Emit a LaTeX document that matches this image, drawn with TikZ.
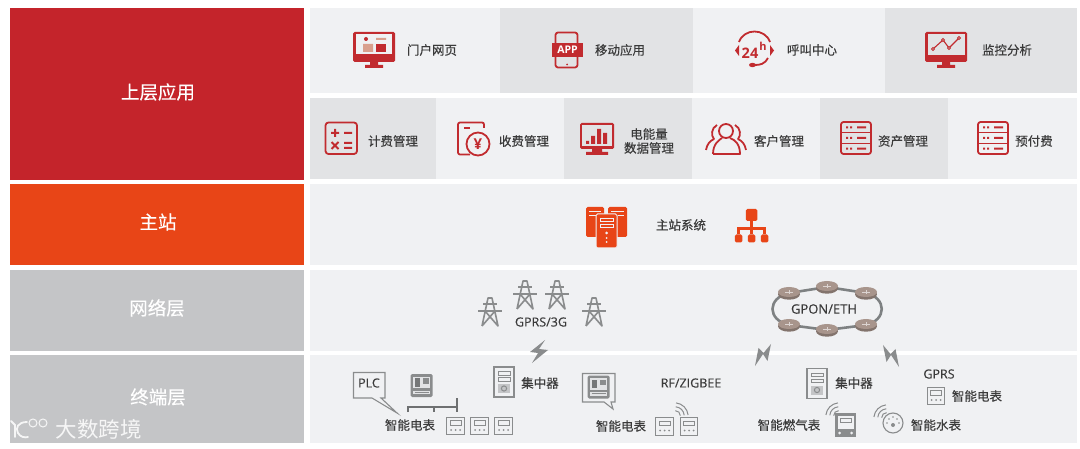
\documentclass[tikz,border=0pt]{standalone}
\usepackage{fontspec}
\setmainfont[FakeBold=0.25]{Open Sans}
\newfontfamily\cjk[FakeBold=0.35]{Noto Sans CJK SC}
\newfontfamily\cjkw{Noto Sans CJK SC}
\newfontfamily\latb{Open Sans}
\definecolor{cred}{HTML}{C4242B}
\definecolor{iconred}{HTML}{C12B2F}
\definecolor{salmon}{HTML}{D9A08E}
\definecolor{corange}{HTML}{E84517}
\definecolor{cgrey}{HTML}{C4C5C7}
\definecolor{clight}{HTML}{F0F1F3}
\definecolor{cdark}{HTML}{E2E3E5}
\definecolor{txt}{HTML}{3A3A3A}
\definecolor{gicon}{HTML}{8A8C8D}
\definecolor{router}{HTML}{A8958C}
\definecolor{ringc}{HTML}{7E8182}
\usetikzlibrary{shapes.geometric}
\tikzset{
  lab/.style={font=\cjk\fontsize{12.5}{14}\selectfont,text=txt,inner sep=0pt,align=center},
  head/.style={font=\cjk\fontsize{18.5}{20}\selectfont,text=white,inner sep=0pt},
  lat/.style={font=\fontsize{12.5}{14}\selectfont,text=txt,inner sep=0pt},
  redline/.style={draw=iconred,line width=1.8pt,line join=round},
  routernode/.style={ellipse,minimum width=22pt,minimum height=12pt,inner sep=0pt},
  ringline/.style={draw=ringc,line width=2.6pt},
  hbox/.style={fill=corange,rounded corners=1.5pt,inner sep=0pt},
}
\newcommand{\smeter}[2]{\begin{scope}[shift={(#1,#2)}]
  \draw[gicon,line width=1pt,fill=clight] (-8.7,-8.7) rectangle (8.7,8.7);
  \draw[gicon,line width=.9pt] (-5.5,-5.5) rectangle (5.5,-1);
  \fill[gicon] (-4.5,4) circle (1) (0,4) circle (1) (4.5,4) circle (1);
\end{scope}}
\newcommand{\conc}[2]{\begin{scope}[shift={(#1,#2)}]
  \draw[gicon,line width=1.1pt,fill=clight] (-10,-15) rectangle (10,15);
  \draw[gicon,line width=1pt] (-6,-10.5) rectangle (6,-7) (-6,-4.5) rectangle (6,-1);
  \fill[cgrey] (-6,2) rectangle (6,11);
  \draw[gicon,line width=1pt] (0,6.5) circle (2.6);
\end{scope}}
\newcommand{\bmeter}[2]{\begin{scope}[shift={(#1,#2)}]
  \fill[gicon,rounded corners=1.5pt] (-11,-11.5) rectangle (11,11.5);
  \fill[cdark] (-8.5,-9) rectangle (8.5,2.5);
  \fill[gicon!85!black] (-7,-7.5) rectangle (-1.5,1);
  \fill[gicon] (1,-7.5) rectangle (7,-2);
  \fill[cdark] (-8.5,5) rectangle (8.5,8.5);
  \draw[gicon,line width=.8pt] (-7,6.7) -- (7,6.7);
\end{scope}}
\newcommand{\tower}[2]{\begin{scope}[shift={(#1,#2)}]
  \draw[gicon,line width=1.6pt,line join=round] (-8,14) -- (-2,-14) -- (2,-14) -- (8,14) -- (-5,-1) -- (5,-1) -- (-8,14);
  \draw[gicon,line width=1.4pt] (-12,-1) -- (12,-1) (-7,-8) -- (7,-8);
\end{scope}}
\newcommand{\wifi}[3]{\begin{scope}[shift={(#1,#2)},rotate=#3]
  \draw[gicon,line width=1pt] (4,-3.5) .. controls (6,-1.5) and (6,1.5) .. (4,3.5);
  \draw[gicon,line width=1pt] (7,-6) .. controls (10,-2.5) and (10,2.5) .. (7,6);
  \draw[gicon,line width=1pt] (10,-8.5) .. controls (14,-3.5) and (14,3.5) .. (10,8.5);
\end{scope}}
\newcommand{\srv}[2]{\begin{scope}[shift={(#1,#2)}]
  \draw[redline,rounded corners=2.5pt] (-15,-16) rectangle (15,16);
  \draw[iconred,line width=1.6pt] (-15,-5.5) -- (15,-5.5) (-15,5.5) -- (15,5.5);
  \foreach \yy in {-10.7,0,10.7}{
    \fill[iconred] (-10,\yy-1) rectangle (-8,\yy+1) (-6,\yy-1) rectangle (-4,\yy+1) (1,\yy-1) rectangle (10,\yy+1);}
\end{scope}}
\newcommand{\boltpath}{(8,-11) -- (4.5,6) -- (0,-1) -- (-8,11) -- (-4.5,-7) -- (0.5,-2) -- cycle}
\begin{document}
\begin{tikzpicture}[x=1pt,y=-1pt]
\useasboundingbox (0,0) rectangle (1080,449);
\fill[white] (0,0) rectangle (1080,449);
\fill[cred] (10,8) rectangle (304,180);
\fill[corange] (10,184) rectangle (304,265);
\fill[cgrey] (10,270) rectangle (304,351);
\fill[cgrey] (10,355) rectangle (304,443);
\node[head] (h1) at (158,92) {上层应用};
\node[head] (h2) at (158,222) {主站};
\node[head] (h3) at (157,308) {网络层};
\node[head] (h4) at (158,397) {终端层};
\fill[clight] (310,8) rectangle (500,93);
\fill[cdark] (500,8) rectangle (693,93);
\fill[clight] (693,8) rectangle (885,93);
\fill[cdark] (885,8) rectangle (1077,93);
\fill[cdark] (310,98) rectangle (436,179);
\fill[clight] (436,98) rectangle (564,179);
\fill[cdark] (564,98) rectangle (692,179);
\fill[clight] (692,98) rectangle (820,179);
\fill[cdark] (820,98) rectangle (948,179);
\fill[clight] (948,98) rectangle (1077,179);
\fill[clight] (310,184) rectangle (1077,265);
\fill[clight] (310,270) rectangle (1077,351);
\fill[clight] (310,355) rectangle (1077,443);
% portal
\fill[iconred,rounded corners=1.5pt] (353,32) rectangle (395,62);
\fill[clight] (356,34) rectangle (392,54);
\fill[iconred] (370,62) rectangle (378,65) (365,65) rectangle (383,68);
\fill[iconred] (366,39) circle (2);
\fill[salmon] (376,38) rectangle (386,40) (363,44) rectangle (373,52);
\fill[iconred] (376,44) rectangle (386,52);
\node[lab] (t1) at (432,50) {门户网页};
% APP
\draw[redline,fill=cdark,rounded corners=2.5pt] (555.5,32.5) rectangle (577.5,67.5);
\fill[iconred] (552,43) rectangle (583,57);
\node[font=\latb\bfseries\fontsize{10.5}{12}\selectfont,text=white,inner sep=0pt] (app) at (567.5,50) {APP};
\fill[iconred] (567,64.5) circle (1);
\node[lab] (t2) at (620,50) {移动应用};
% 24h
\draw[iconred,line width=1.8pt] (739,42) .. controls (744,28) and (765,28) .. (770,42);
\fill[iconred] (739,45) -- (735,50.5) -- (739,56) -- cycle;
\fill[iconred] (770,45) -- (774,50.5) -- (770,56) -- cycle;
\node[font=\latb\bfseries\fontsize{14.5}{16}\selectfont,text=iconred,inner sep=0pt] (n24) at (750,53) {24};
\node[font=\latb\bfseries\fontsize{11}{12}\selectfont,text=iconred,inner sep=0pt] (nh) at (763,46) {h};
\draw[iconred,line width=1.8pt] (768,58) .. controls (765,64) and (760,65) .. (755,65);
\fill[iconred] (752.5,65) ellipse (3.5 and 2.2);
\node[lab] (t3) at (812,50) {呼叫中心};
% monitoring
\fill[iconred,rounded corners=1.5pt] (925,32) rectangle (967,62);
\fill[cdark] (927.5,34.5) rectangle (964.5,55);
\fill[iconred] (942,62) rectangle (950,65) (937,65) rectangle (955,68);
\draw[iconred,line width=1.1pt] (933,49) -- (943,40) -- (949,48) -- (959,38);
\foreach \p in {(933,49),(943,40),(949,48),(959,38)}{\draw[iconred,line width=.8pt,fill=cdark] \p circle (1.5);}
\node[lab] (t4) at (1007,50) {监控分析};
% calc
\draw[redline,rounded corners=3pt] (325.5,122.5) rectangle (357,154);
\draw[iconred,line width=2pt] (331,133) -- (339,133) (335,129) -- (335,137) (344,133) -- (352,133)
  (331.5,142) -- (338.5,149) (338.5,142) -- (331.5,149) (344,143) -- (352,143) (344,148) -- (352,148);
\node[lab] (t5) at (393,141) {计费管理};
% fee
\draw[redline,rounded corners=2pt] (484,128) -- (484,122.5) -- (458,122.5) -- (458,154.5) -- (470,154.5);
\fill[iconred] (464,127.5) rectangle (470,129);
\draw[redline,fill=clight] (478,144) circle (11.5);
\node[font=\latb\bfseries\fontsize{15}{16}\selectfont,text=iconred,inner sep=0pt] (yen) at (478,144) {¥};
\node[lab] (t6) at (524,141) {收费管理};
% energy
\fill[iconred,rounded corners=1.5pt] (580,123) rectangle (614,149);
\fill[cdark] (582,125) rectangle (612,146.5);
\fill[iconred] (592,149) rectangle (602,152) (586,152) rectangle (608,155);
\fill[iconred] (586,141) rectangle (589,144) (591,136) rectangle (595,144) (597,129) rectangle (601,144) (603,133) rectangle (607,144);
\node[lab] (t7) at (649,141) {电能量\\数据管理};
% customers
\draw[redline] (726,131) circle (7);
\draw[redline] (713,154) .. controls (713,144) and (719,140) .. (722,138);
\draw[redline] (730,138) .. controls (735,140) and (740,144) .. (740,154) -- (713,154);
\draw[redline] (717,125) .. controls (711,128) and (711,136) .. (714,139) .. controls (710,141) and (707,144) .. (706,150);
\draw[redline] (735,125) .. controls (741,128) and (741,136) .. (738,139) .. controls (742,141) and (745,144) .. (746,150);
\node[lab] (t8) at (779,141) {客户管理};
\srv{856}{138}
\node[lab] (t9) at (903,141) {资产管理};
\srv{993}{138}
\node[lab] (t10) at (1034,141) {预付费};
% main servers
\fill[corange,rounded corners=1.5pt] (586,207) rectangle (604,237) (608,207) rectangle (627,237);
\draw[clight,line width=.9pt] (589,211) -- (601,211) (589,215) -- (596,215) (611,211) -- (624,211) (618,215) -- (624,215);
\fill[corange,draw=clight,line width=1pt,rounded corners=1.5pt] (596,214) rectangle (617,248);
\draw[clight,line width=1pt,fill=corange] (600,219) rectangle (613,222) (600,225) rectangle (613,228);
\fill[clight] (606.5,233) circle (1.5) (606.5,238) circle (1) (606.5,242) circle (1);
\node[lab] (t11) at (681,225) {主站系统};
% hierarchy
\node[hbox,minimum width=11.5pt,minimum height=12pt] (ht) at (751.5,215) {};
\node[hbox,minimum width=7.5pt,minimum height=8pt] (ha) at (738.5,238.5) {};
\node[hbox,minimum width=7.5pt,minimum height=8pt] (hb) at (751.5,238.5) {};
\node[hbox,minimum width=7.5pt,minimum height=8pt] (hc) at (764.5,238.5) {};
\draw[corange,line width=3pt] (ht) -- (hb);
\draw[corange,line width=3pt] (ha) |- (751.5,229) -| (hc);
% towers
\tower{490}{312}
\tower{525}{295}
\tower{557}{295}
\tower{594}{312}
\node[lat] (g3) at (541,322) {GPRS/3G};
% ring
\node[routernode] (r1) at (789,293) {};
\node[routernode] (r2) at (827,287) {};
\node[routernode] (r3) at (866,293) {};
\node[routernode] (r4) at (866,325) {};
\node[routernode] (r5) at (827,330) {};
\node[routernode] (r6) at (789,325) {};
\draw[ringline] (r1.center) -- (r2.center) -- (r3.center) .. controls (887,298) and (887,320) .. (r4.center) -- (r5.center) -- (r6.center) .. controls (767,320) and (767,298) .. (r1.center);
\foreach \x/\y in {789/293,827/287,866/293,866/325,827/330,789/325}{
  \fill[router!78!black] (\x,\y+1.2) ellipse (11 and 5.5);
  \fill[router] (\x,\y-1) ellipse (11 and 5);
  \draw[white,line width=.5pt,opacity=.6] (\x-4,\y-1) -- (\x+4,\y-1) (\x,\y-3) -- (\x,\y+1);
}
\node[lat,font=\fontsize{13}{15}\selectfont] (gpon) at (824,309) {GPON/ETH};
% bolts
\fill[gicon] (545,340) -- (530,352) -- (538,353) -- (532,363) -- (548,350) -- (539,349) -- cycle;
\begin{scope}[shift={(763,355)}]\fill[gicon] \boltpath;\end{scope}
\begin{scope}[shift={(891,356)},xscale=-1]\fill[gicon] \boltpath;\end{scope}
% PLC
\draw[gicon,line width=1.1pt,fill=clight] (353.5,372.5) -- (385,372.5) -- (385,398) -- (381,398) -- (397,413) -- (372,398) -- (353.5,398) -- cycle;
\node[lat] (plc) at (369,383) {PLC};
\bmeter{421.5}{385.5}
\coordinate (bl) at (408,407); \coordinate (br) at (457,407);
\coordinate (bm) at (434,407);
\draw[gicon!80!black,line width=1.1pt] (408,412) -- (bl) -- (br) (bm) -- (434,412) (457,398) -- (457,412);
\node[lab] (e1) at (410,425) {智能电表};
\smeter{455.5}{426}\smeter{479.5}{426}\smeter{503.5}{426}
\conc{504}{382}
\node[lab] (c1) at (540,383) {集中器};
% bubble 2
\draw[gicon,line width=1.1pt,fill=clight] (582.5,373.5) -- (615,373.5) -- (615,402) -- (611,402) -- (613,409) -- (604,402) -- (582.5,402) -- cycle;
\bmeter{598.5}{387}
\node[lat] (rf) at (691,383) {RF/ZIGBEE};
\wifi{675}{416}{45}
\smeter{664.5}{426.5}\smeter{689}{426.5}
\node[lab] (e2) at (621,426) {智能电表};
% right terminal
\conc{817}{383.5}
\node[lab] (c2) at (854,383) {集中器};
\node[lat] (gprs) at (939,374) {GPRS};
\smeter{936}{396}
\node[lab] (e3) at (977,396) {智能电表};
\node[lab] (e4) at (789,425) {智能燃气表};
\begin{scope}[shift={(845.5,425)}]
  \fill[gicon] (-10.5,-12) rectangle (10.5,12);
  \fill[clight] (-8,-9.5) rectangle (8,4);
  \draw[gicon,line width=.8pt] (-5.5,-6.5) rectangle (5.5,-3);
  \fill[clight] (-6,8) circle (1.5) (6,8) circle (1.5);
\end{scope}
\wifi{839}{416}{135}
\draw[gicon,line width=1.1pt,fill=clight] (893,423) circle (10);
\foreach \dx/\dy in {-6/0,-4/-4,0/-6,4/-4,6/0}{\fill[gicon] (893+\dx,423+\dy) circle (.8);}
\fill[gicon] (893,425) circle (2);
\wifi{887}{418}{135}
\node[lab] (e5) at (936,425) {智能水表};
% watermark
\node[font=\cjkw\fontsize{21.5}{24}\selectfont,text=white,inner sep=0pt,opacity=.85] (wm) at (99,429) {大数跨境};
\draw[white,line width=1.8pt,opacity=.85,line cap=round] (11,421) -- (15,425) -- (15,437);
\draw[white,line width=1.8pt,opacity=.85,line cap=round] (27,422) .. controls (18,422) and (15,428) .. (18,433) .. controls (20,437) and (25,438) .. (28,437);
\draw[white,line width=1pt,opacity=.85] (33,423) circle (4) (43,423) circle (4);
\end{tikzpicture}
\end{document}
